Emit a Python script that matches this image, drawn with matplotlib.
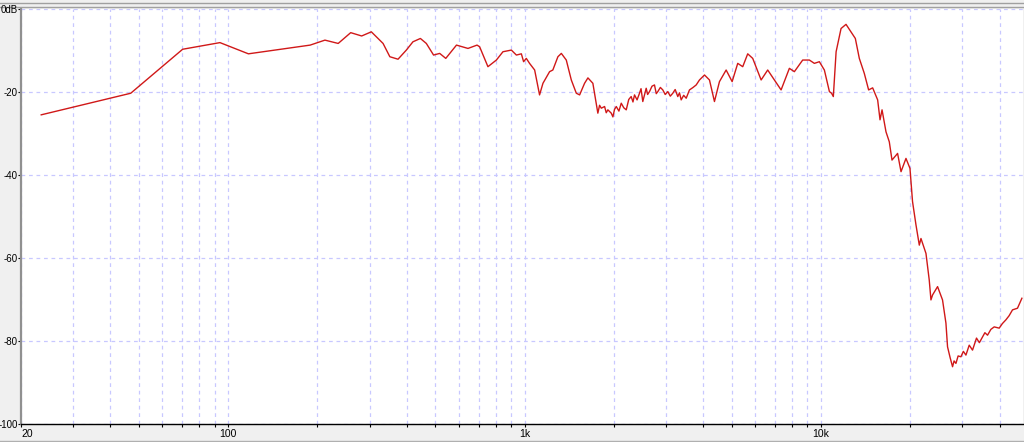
import matplotlib.pyplot as plt
from matplotlib.lines import Line2D
from matplotlib.ticker import FixedLocator, LogLocator, NullFormatter

plt.rcParams['font.family'] = ['Liberation Sans Narrow', 'Liberation Sans', 'DejaVu Sans']

# frequency response (Hz, dB)
freq = [23.4, 46.9, 70.2, 93.8, 117, 189, 212, 235, 259, 282, 304, 333, 351, 374, 399,
        420, 445, 466, 493, 517, 542, 589, 644, 691, 705, 752, 803, 845, 902, 938, 975,
        992, 1013, 1039, 1081, 1123, 1153, 1214, 1245, 1295, 1330, 1382, 1437, 1494,
        1533, 1593, 1635, 1699, 1766, 1790, 1814, 1861, 1885, 1909, 1960, 1985, 2010,
        2038, 2080, 2118, 2160, 2202, 2245, 2288, 2320, 2348, 2395, 2441, 2470, 2504,
        2571, 2600, 2638, 2690, 2742, 2780, 2814, 2870, 2925, 2980, 3041, 3100, 3161,
        3220, 3286, 3330, 3374, 3440, 3508, 3598, 3700, 3791, 3889, 4044, 4203, 4369,
        4542, 4784, 5012, 5235, 5442, 5657, 5881, 6278, 6607, 6959, 7331, 7818, 8128,
        8670, 9133, 9493, 9869, 10260, 10670, 10850, 11000, 11240, 11680, 12140, 12620,
        13050, 13460, 13990, 14470, 14930, 15520, 15810, 16060, 16560, 16990, 17350,
        18120, 18610, 19340, 19950, 20350, 20900, 21450, 21730, 22590, 23170, 23480,
        23780, 24720, 25690, 26380, 26710, 27250, 27770, 28100, 28510, 29000, 29640,
        30200, 30810, 31610, 32430, 33450, 34200, 35050, 35700, 36440, 37400, 38380,
        39900, 40900, 42030, 43100, 44240, 45990, 47590]
level = [-25.5, -20.3, -9.7, -8.1, -10.8, -8.7, -7.5, -8.3, -5.7, -6.5, -5.5, -8.3, -11.5,
         -12.1, -9.9, -7.9, -7.1, -8.3, -11.1, -10.7, -11.9, -8.7, -9.5, -8.7, -9.1,
         -13.9, -12.3, -10.3, -9.9, -11.1, -10.8, -12.7, -11.9, -13.1, -14.7, -20.7,
         -17.9, -15.1, -14.7, -11.5, -10.7, -12.3, -17.1, -20.3, -20.7, -17.9, -16.6,
         -17.9, -25.1, -23.2, -23.9, -23.5, -25.0, -24.3, -25.1, -26.0, -24.2, -23.5,
         -24.6, -22.7, -23.8, -24.3, -21.8, -21.1, -22.4, -20.7, -21.9, -20.3, -19.2,
         -22.3, -19.1, -20.6, -19.9, -18.6, -18.3, -20.4, -19.9, -18.9, -19.5, -20.6,
         -19.9, -21.0, -20.3, -19.4, -21.1, -20.2, -21.9, -20.8, -21.5, -19.5, -18.9,
         -18.3, -17.1, -15.9, -17.1, -22.3, -17.5, -14.7, -17.5, -13.1, -13.9, -10.8,
         -11.9, -17.1, -14.7, -17.1, -19.5, -14.3, -15.1, -12.3, -12.3, -13.1, -12.7,
         -14.7, -19.9, -20.3, -21.1, -10.3, -4.7, -3.7, -5.5, -7.1, -11.9, -15.5, -19.5,
         -19.0, -21.9, -26.7, -24.3, -29.6, -32.0, -36.4, -34.8, -39.2, -36.0, -38.4,
         -46.4, -52.0, -56.9, -55.3, -58.9, -65.3, -70.1, -68.9, -66.9, -70.1, -75.7,
         -81.4, -84.0, -86.2, -84.8, -85.4, -83.6, -83.8, -82.5, -83.4, -81.0, -82.2,
         -79.3, -80.4, -79.0, -78.0, -78.6, -77.2, -76.6, -76.9, -75.8, -74.9, -73.9,
         -72.5, -72.1, -69.7]

xtick_pos = [20, 100, 1000, 10000]
xtick_labels = ['20', '100', '1k', '10k']
ytick_pos = [0, -20, -40, -60, -80, -100]
ytick_labels = ['0dB', '-20', '-40', '-60', '-80', '-100']

fig = plt.figure(figsize=(10.24, 4.42), dpi=100, facecolor='#f0f0f0')
ax = fig.add_axes([21 / 1024, 18 / 442, 1002 / 1024, 415 / 442])
ax.set_facecolor('white')

ax.plot(freq, level, color='#d01818', linewidth=1.0)

ax.set_xscale('log')
ax.set_xlim(20, 48000)
ax.set_ylim(-100, 0)

ax.xaxis.set_major_locator(FixedLocator(xtick_pos))
ax.set_xticklabels(xtick_labels)
ax.xaxis.set_minor_locator(LogLocator(base=10, subs=range(2, 10), numticks=20))
ax.xaxis.set_minor_formatter(NullFormatter())
ax.set_yticks(ytick_pos)
ax.set_yticklabels(ytick_labels)

ax.grid(True, which='both', axis='x', color='#c8c8ff', linestyle=(0, (3, 3)), linewidth=0.9)
ax.grid(True, which='major', axis='y', color='#c8c8ff', linestyle=(0, (3, 3)), linewidth=0.9)

ax.tick_params(axis='both', which='both', direction='out', length=2.5, width=0.8,
               labelsize=7.5, pad=1, colors='black')
ax.tick_params(axis='y', length=2, pad=0.5, labelsize=7)
ax.tick_params(axis='x', which='minor', length=2)
ax.get_xticklabels()[0].set_horizontalalignment('left')

for side in ['top', 'right']:
    ax.spines[side].set_visible(False)
ax.spines['left'].set_color('#909090')
ax.spines['left'].set_linewidth(1.6)
ax.spines['bottom'].set_color('black')
ax.spines['bottom'].set_linewidth(1.0)

# window frame lines at top and bottom, kept under the axes and its labels
for y, c in [(1 - 3 / 442, '#a0a0a0'), (1 - 7 / 442, '#a0a0a0'), (1.5 / 442, '#b0b0b0')]:
    fig.add_artist(Line2D([0, 1], [y, y], color=c, linewidth=1.0, zorder=-1))

plt.savefig('out.png', dpi=100, facecolor=fig.get_facecolor())
